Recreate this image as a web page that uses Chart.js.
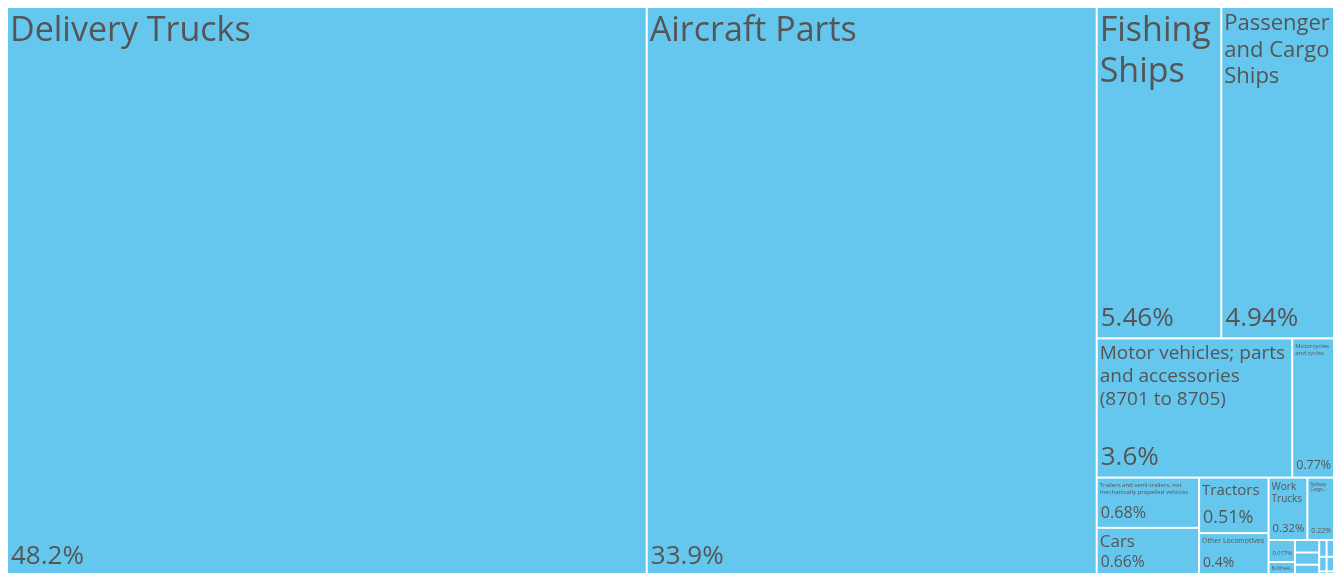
<!DOCTYPE html>
<html>
<head>
<meta charset="utf-8">
<title>Transportation exports</title>
<script src="https://cdn.jsdelivr.net/npm/chart.js@4.4.1/dist/chart.umd.min.js"></script>
<style>
  html, body { margin: 0; padding: 0; background: #ffffff; overflow: hidden; }
  #wrap { position: relative; width: 1341px; height: 584px; }
</style>
</head>
<body>
<div id="wrap"><canvas id="chart"></canvas></div>
<script>
// Products (sorted by share of exports, largest first)
const products = [
  "Delivery Trucks",
  "Aircraft Parts",
  "Fishing Ships",
  "Passenger and Cargo Ships",
  "Motor vehicles; parts and accessories (8701 to 8705)",
  "Motorcycles and cycles",
  "Trailers and semi-trailers, not mechanically propelled vehicles",
  "Cars",
  "Tractors",
  "Other Locomotives",
  "Work Trucks",
  "Railway Cargo Containers",
  "Buses",
  "Bi-Wheel Vehicles",
  "Railway Freight Cars",
  "Special Purpose Ships",
  "Railway Passenger Cars",
  "Tanks and Armored Vehicles",
  "Electric Locomotives",
  "Railway Maintenance Vehicles",
  "Self-Propelled Rail Transport",
  "Baby Carriages",
  "Railway Track Fixtures"
];

// Share of total exports, in percent
const shares = [
  48.2, 33.9, 5.46, 4.94, 3.6, 0.77, 0.68, 0.66, 0.51, 0.4, 0.32, 0.22,
  0.077, 0.051, 0.040, 0.039, 0.038, 0.0165, 0.0165, 0.0142, 0.0142, 0.0055, 0.0048
];

const FILL = "#66c7ee";
const TEXT = "#555555";
const FAMILY = '"Open Sans", "Noto Sans", sans-serif';
const GAP = 1;          // half of the white line between cells
const NAME_MAX = 34;
const NAME_MIN = 4.5;
const SHARE_MAX = 26;
const LINE = 1.2;
const PHI = (1 + Math.sqrt(5)) / 2;

const font = (s) => `${s}px ${FAMILY}`;

function formatShare(v) {
  return parseFloat(v.toPrecision(3)) + "%";
}

// Squarified treemap tiling (same row rule as d3.treemapSquarify)
function squarify(values, x0, y0, x1, y1) {
  const n = values.length;
  const rects = new Array(n);
  let value = values.reduce((a, b) => a + b, 0);
  let i0 = 0, i1 = 0;
  while (i0 < n) {
    const dx = x1 - x0, dy = y1 - y0;
    let sumValue = values[i1++];
    let minValue = sumValue, maxValue = sumValue;
    const alpha = Math.max(dy / dx, dx / dy) / (value * PHI);
    let beta = sumValue * sumValue * alpha;
    let minRatio = Math.max(maxValue / beta, beta / minValue);
    for (; i1 < n; ++i1) {
      const v = values[i1];
      sumValue += v;
      if (v < minValue) minValue = v;
      if (v > maxValue) maxValue = v;
      beta = sumValue * sumValue * alpha;
      const newRatio = Math.max(maxValue / beta, beta / minValue);
      if (newRatio > minRatio) { sumValue -= v; break; }
      minRatio = newRatio;
    }
    if (dx < dy) {
      const ny = y0 + dy * sumValue / value;
      const k = (x1 - x0) / sumValue;
      let x = x0;
      for (let i = i0; i < i1; i++) {
        const w = values[i] * k;
        rects[i] = { x0: x, y0: y0, x1: x + w, y1: ny };
        x += w;
      }
      y0 = ny;
    } else {
      const nx = x0 + dx * sumValue / value;
      const k = (y1 - y0) / sumValue;
      let y = y0;
      for (let i = i0; i < i1; i++) {
        const h = values[i] * k;
        rects[i] = { x0: x0, y0: y, x1: nx, y1: y + h };
        y += h;
      }
      x0 = nx;
    }
    value -= sumValue;
    i0 = i1;
  }
  return rects;
}

function wrapWords(ctx, words, maxW) {
  const lines = [];
  let cur = "";
  for (const wd of words) {
    const test = cur ? cur + " " + wd : wd;
    if (!cur || ctx.measureText(test).width <= maxW) cur = test;
    else { lines.push(cur); cur = wd; }
  }
  if (cur) lines.push(cur);
  return lines;
}

// Pick a font size and line breaks for a name inside a bw x bh box
function fitName(ctx, text, bw, bh) {
  if (bw < 10 || bh < 7) return null;
  const words = text.split(" ");
  ctx.font = font(NAME_MAX);
  const sizes = words.map(w => ctx.measureText(w).width);
  let fs = NAME_MAX;
  const lh = fs * LINE;
  const areaMod = 1.165 + bw / bh * 0.1;
  const boxArea = bw * bh;
  const maxWidth = Math.max(...sizes);
  const textArea = sizes.reduce((a, s) => a + s * lh, 0) * areaMod;
  if (maxWidth > bw || textArea > boxArea) {
    fs = Math.floor(fs * Math.min(Math.sqrt(boxArea / textArea), bw / maxWidth));
  }
  fs = Math.min(fs, Math.floor(bh * 0.8));
  while (fs >= NAME_MIN) {
    ctx.font = font(fs);
    const lines = wrapWords(ctx, words, bw);
    const ok = lines.length * fs * LINE <= bh &&
      lines.every(l => ctx.measureText(l).width <= bw);
    if (ok) return { fs, lines };
    fs -= 1;
  }
  // smallest size: keep what fits and close with an ellipsis
  fs = NAME_MIN;
  ctx.font = font(fs);
  let lines = wrapWords(ctx, words, bw);
  const maxLines = Math.floor(bh / (fs * LINE));
  let k = lines.findIndex(l => ctx.measureText(l).width > bw * 1.1);
  if (k === -1) k = lines.length;
  k = Math.min(k, maxLines);
  if (k === 0) return null;
  if (k < lines.length) {
    lines = lines.slice(0, k);
    lines[k - 1] += "...";
  }
  return { fs, lines };
}

function drawCell(ctx, r, name, value) {
  const ix0 = r.x0 + GAP, iy0 = r.y0 + GAP, ix1 = r.x1 - GAP, iy1 = r.y1 - GAP;
  const w = ix1 - ix0, h = iy1 - iy0;
  if (w <= 0 || h <= 0) return;
  ctx.fillStyle = FILL;
  ctx.fillRect(ix0, iy0, w, h);

  ctx.save();
  ctx.beginPath();
  ctx.rect(ix0, iy0, w, h);
  ctx.clip();
  ctx.fillStyle = TEXT;
  ctx.textAlign = "left";
  ctx.textBaseline = "alphabetic";

  let sh = Math.min(50, h * 0.42);
  if (sh < 7) sh = 0;

  if (sh) {
    const txt = formatShare(value);
    ctx.font = font(SHARE_MAX);
    const em = ctx.measureText(txt).width / SHARE_MAX;
    const fs = Math.min(SHARE_MAX, sh * 0.8, (w - 5) / em);
    if (fs >= 3) {
      ctx.font = font(fs);
      ctx.fillText(txt, ix0 + 3, iy1 - (4 + 0.3 * fs));
    }
  }

  const fit = fitName(ctx, name, w - 4, h - sh - 5);
  if (fit) {
    ctx.font = font(fit.fs);
    fit.lines.forEach((line, i) => {
      ctx.fillText(line, ix0 + 2, iy0 + 3 + 0.88 * fit.fs + i * fit.fs * LINE);
    });
  }
  ctx.restore();
}

const treemapPlugin = {
  id: "treemapCells",
  afterDatasetsDraw(chart) {
    const xs = chart.scales.x, ys = chart.scales.y;
    const left = xs.getPixelForValue(0), right = xs.getPixelForValue(1);
    const top = ys.getPixelForValue(1), bottom = ys.getPixelForValue(0);
    const rects = squarify(shares, left, top, right, bottom);
    const ctx = chart.ctx;
    rects.forEach((r, i) => drawCell(ctx, r, products[i], shares[i]));
  }
};

new Chart(document.getElementById("chart"), {
  type: "scatter",
  data: { datasets: [{ data: [] }] },
  options: {
    responsive: true,
    maintainAspectRatio: false,
    animation: false,
    devicePixelRatio: 1,
    layout: { padding: { left: 7, right: 7, top: 7, bottom: 7.4 } },
    scales: {
      x: { type: "linear", min: 0, max: 1, display: false },
      y: { type: "linear", min: 0, max: 1, display: false }
    },
    plugins: {
      legend: { display: false },
      tooltip: { enabled: false }
    }
  },
  plugins: [treemapPlugin]
});
</script>
</body>
</html>
